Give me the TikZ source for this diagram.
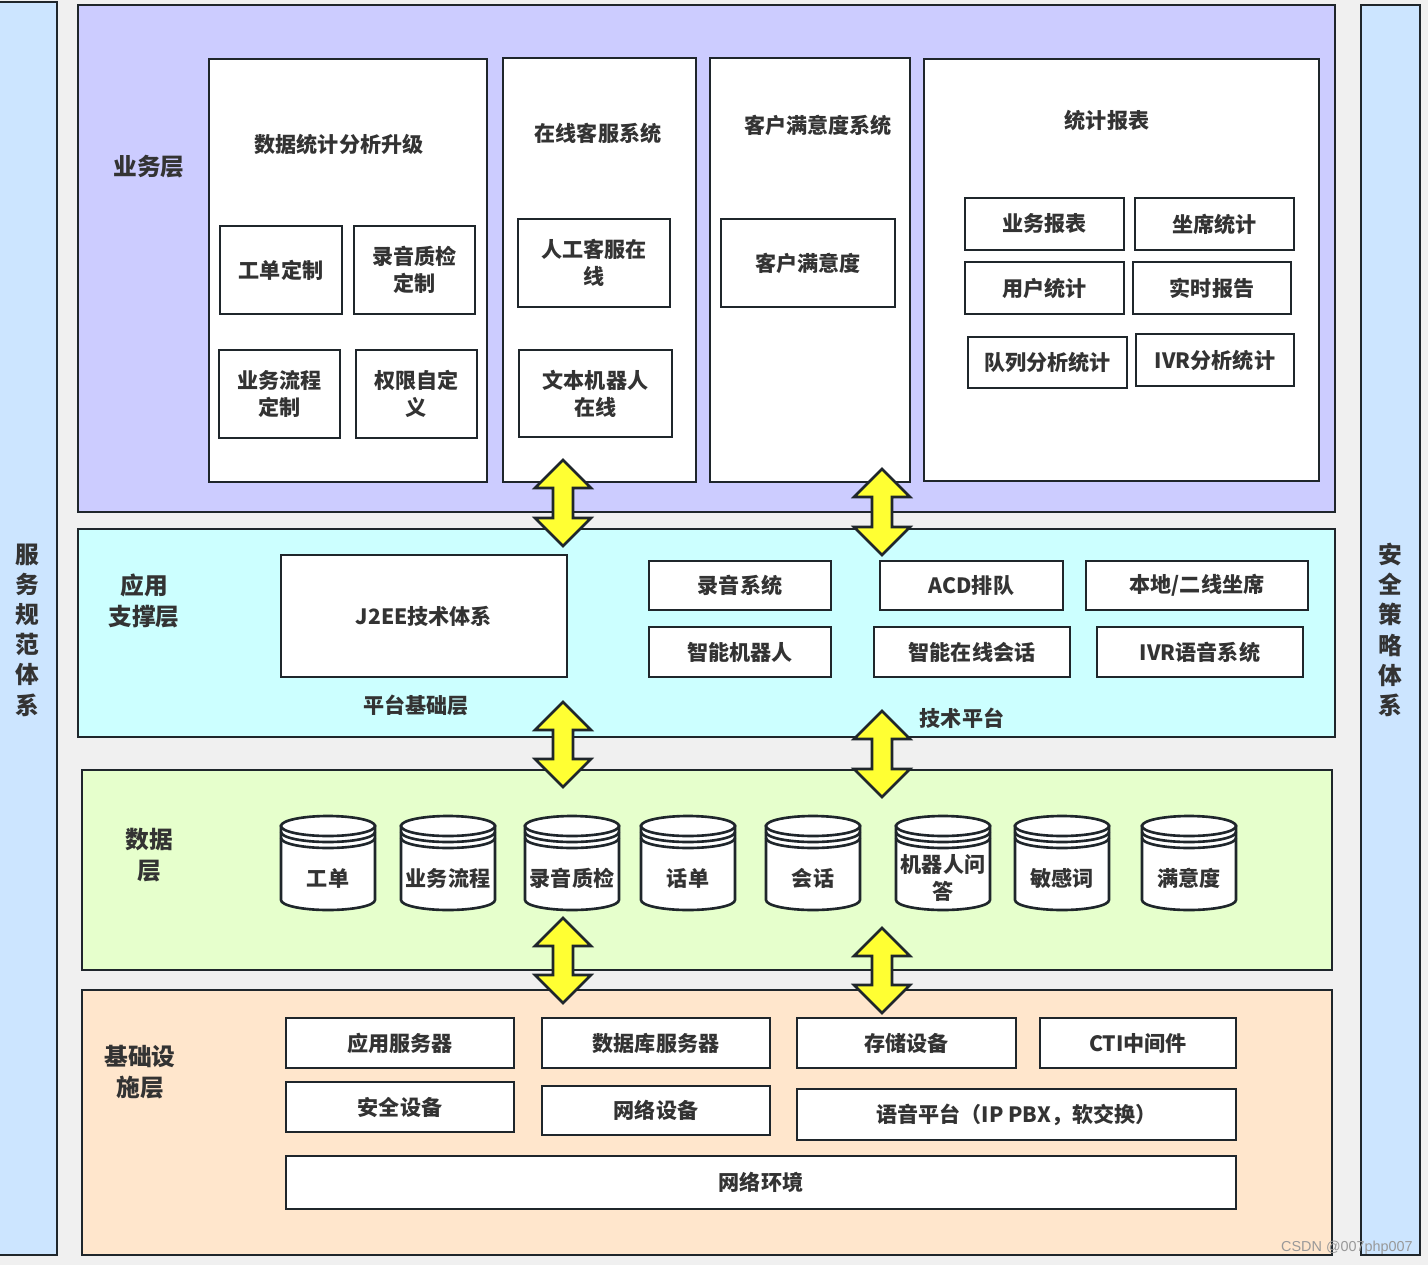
\documentclass[tikz,border=0pt]{standalone}
\usepackage{fontspec}
\setmainfont{Noto Sans CJK SC}
\newfontfamily\wmfont{Liberation Sans}

\definecolor{bgray}{HTML}{F0F0F0}
\definecolor{sidebl}{HTML}{CCE5FF}
\definecolor{busyl}{HTML}{CCCCFF}
\definecolor{appcy}{HTML}{CCFFFF}
\definecolor{datgr}{HTML}{E6FFCC}
\definecolor{infor}{HTML}{FFE6CC}
\definecolor{linec}{HTML}{1F262B}
\definecolor{txtc}{HTML}{333333}
\definecolor{arry}{HTML}{FFFF33}

% box from (x1,y1) to (x2,y2), pixel units
\newcommand{\bx}[7][]{\node[box,#1, minimum width={(#5-#3)*0.02cm}, minimum height={(#6-#4)*0.02cm}] (#2) at ({(#3+#5)/2},{(#4+#6)/2}) {#7};}
% double headed arrow at x, from ytop to ybot
\newcommand{\udarrow}[3]{\draw[arrowfill] (#1,#2) -- ({#1+28},{#2+28}) -- ({#1+10},{#2+28}) -- ({#1+10},{#3-28}) -- ({#1+28},{#3-28}) -- (#1,#3) -- ({#1-28},{#3-28}) -- ({#1-10},{#3-28}) -- ({#1-10},{#2+28}) -- ({#1-28},{#2+28}) -- cycle;}
% database cylinder
\newcommand{\cyl}[3]{
  \filldraw[cylfill] ({#2-47},826) -- ({#2-47},900) arc[start angle=180, end angle=360, x radius=0.94cm, y radius=0.2cm] -- ({#2+47},826) -- cycle;
  \filldraw[cylfill] (#2,826) ellipse [x radius=0.94cm, y radius=0.2cm];
  \draw[linec] ({#2-47},832) arc[start angle=180, end angle=360, x radius=0.94cm, y radius=0.2cm];
  \draw[linec] ({#2-47},838) arc[start angle=180, end angle=360, x radius=0.94cm, y radius=0.2cm];
  \node[txt] (#1) at (#2,878) {#3};
}

\begin{document}
\begin{tikzpicture}[x=0.02cm, y=-0.02cm, line width=1.5pt,
  box/.style={draw=linec, fill=white, inner sep=0pt, align=center, text=txtc, font=\bfseries\fontsize{12}{15.3}\selectfont},
  txt/.style={align=center, text=txtc, inner sep=0pt, font=\bfseries\fontsize{12}{15.3}\selectfont},
  layerlab/.style={align=center, text=txtc, inner sep=0pt, font=\bfseries\fontsize{13.5}{18}\selectfont},
  sidelab/.style={align=center, text=txtc, inner sep=0pt, font=\bfseries\fontsize{13.5}{17.2}\selectfont},
  arrowfill/.style={draw=linec, fill=arry, line join=miter},
  cylfill/.style={draw=linec, fill=white}]

  \useasboundingbox (0,0) rectangle (1428,1265);
  \fill[bgray] (0,0) rectangle (1428,1265);

  %side systems
  \bx[fill=sidebl]{svcsys}{-5}{2}{57}{1255}{}
  \bx[fill=sidebl]{secsys}{1361}{5}{1420}{1255}{}
  \node[sidelab] (svclab) at (27,630) {服\\务\\规\\范\\体\\系};
  \node[sidelab] (seclab) at (1390,630) {安\\全\\策\\略\\体\\系};

  %business layer
  \bx[fill=busyl]{bizlayer}{78}{5}{1335}{512}{}
  \node[layerlab] (bizlab) at (149,167) {业务层};

  \bx{stat}{209}{59}{487}{482}{}
  \node[txt] (stattitle) at (339,144) {数据统计分析升级};
  \bx{wodef}{220}{226}{342}{314}{工单定制}
  \bx{qcdef}{354}{226}{475}{314}{录音质检\\定制}
  \bx{flowdef}{219}{350}{340}{438}{业务流程\\定制}
  \bx{permdef}{356}{350}{477}{438}{权限自定\\义}

  \bx{online}{503}{58}{696}{482}{}
  \node[txt] (onlinetitle) at (598,133) {在线客服系统};
  \bx{agentol}{518}{219}{670}{307}{人工客服在\\线}
  \bx{botol}{519}{350}{672}{437}{文本机器人\\在线}

  \bx{satis}{710}{58}{910}{482}{}
  \node[txt] (satistitle) at (818,125) {客户满意度系统};
  \bx{satisbox}{721}{219}{895}{307}{客户满意度}

  \bx{report}{924}{59}{1319}{481}{}
  \node[txt] (reporttitle) at (1107,120) {统计报表};
  \bx{bizrep}{965}{198}{1124}{250}{业务报表}
  \bx{seatst}{1135}{198}{1294}{250}{坐席统计}
  \bx{userst}{965}{262}{1124}{314}{用户统计}
  \bx{realrep}{1133}{262}{1291}{314}{实时报告}
  \bx{queuest}{968}{337}{1127}{388}{队列分析统计}
  \bx{ivrst}{1136}{334}{1294}{386}{IVR分析统计}

  %application layer
  \bx[fill=appcy]{applayer}{78}{529}{1335}{737}{}
  \node[layerlab] (applab) at (144,601) {应用\\支撑层};
  \bx{jee}{281}{555}{567}{677}{J2EE技术体系}
  \node[txt] (baselab) at (416,705) {平台基础层};
  \bx{recsys}{649}{561}{831}{610}{录音系统}
  \bx{acd}{880}{561}{1063}{610}{ACD排队}
  \bx{seat}{1086}{561}{1308}{610}{本地/二线坐席}
  \bx{robot}{649}{627}{831}{677}{智能机器人}
  \bx{chat}{874}{627}{1070}{677}{智能在线会话}
  \bx{ivr}{1097}{627}{1303}{677}{IVR语音系统}
  \node[txt] (techlab) at (962,718) {技术平台};

  %data layer
  \bx[fill=datgr]{datalayer}{82}{770}{1332}{970}{}
  \node[layerlab] (datalab) at (149,855) {数据\\层};
  \cyl{dbwo}{328}{工单}
  \cyl{dbflow}{448}{业务流程}
  \cyl{dbqc}{572}{录音质检}
  \cyl{dbcdr}{688}{话单}
  \cyl{dbsess}{813}{会话}
  \cyl{dbqa}{943}{机器人问\\答}
  \cyl{dbword}{1062}{敏感词}
  \cyl{dbsat}{1189}{满意度}

  %infrastructure layer
  \bx[fill=infor]{infralayer}{82}{990}{1332}{1255}{}
  \node[layerlab] (infralab) at (140,1072) {基础设\\施层};
  \bx{appsrv}{286}{1018}{514}{1068}{应用服务器}
  \bx{dbsrv}{542}{1018}{770}{1068}{数据库服务器}
  \bx{storage}{797}{1018}{1016}{1068}{存储设备}
  \bx{cti}{1040}{1018}{1236}{1068}{CTI中间件}
  \bx{secdev}{286}{1082}{514}{1132}{安全设备}
  \bx{netdev}{542}{1086}{770}{1135}{网络设备}
  \bx{voice}{797}{1089}{1236}{1140}{语音平台（IP PBX，软交换）}
  \bx{netenv}{286}{1156}{1236}{1209}{网络环境}

  %arrows between layers
  \udarrow{563}{460}{546}
  \udarrow{882}{469}{555}
  \udarrow{563}{702}{787}
  \udarrow{882}{711}{797}
  \udarrow{563}{918}{1003}
  \udarrow{882}{928}{1013}

  \node[text=black!40, inner sep=0pt, font=\wmfont\fontsize{8.2}{10}\selectfont] (wmark) at (1347,1248) {CSDN @007php007};

\end{tikzpicture}
\end{document}
